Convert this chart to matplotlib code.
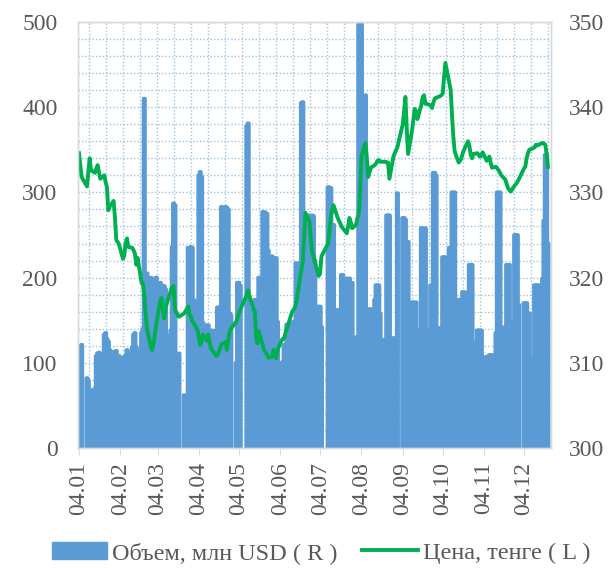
import datetime as dt

import matplotlib
matplotlib.use("Agg")
import matplotlib.pyplot as plt
import matplotlib.dates as mdates
from matplotlib.lines import Line2D
from matplotlib.patches import Patch
from matplotlib.ticker import MultipleLocator

# trading days of 2017, listed month by month
days_jan = [4, 5, 6, 10, 11, 12, 13, 16, 17, 18, 19, 20, 23, 24, 25, 26, 27, 30, 31]
days_feb = [1, 2, 3, 6, 7, 8, 9, 10, 13, 14, 15, 16, 17, 20, 21, 22, 23, 24, 27, 28]
days_mar = [1, 2, 3, 6, 7, 9, 10, 13, 14, 15, 16, 17, 20, 24, 27, 28, 29, 30, 31]
days_apr = [3, 4, 5, 6, 7, 10, 11, 12, 13, 14, 17, 18, 19, 20, 21, 24, 25, 26, 27, 28]
days_may = [2, 3, 4, 5, 10, 11, 12, 15, 16, 17, 18, 19, 22, 23, 24, 25, 26, 29, 30, 31]
days_jun = [1, 2, 5, 6, 7, 8, 9, 12, 13, 14, 15, 16, 19, 20, 21, 22, 23, 26, 27, 28, 29, 30]
days_jul = [3, 4, 5, 10, 11, 12, 13, 14, 17, 18, 19, 20, 21, 24, 25, 26, 27, 28, 31]
days_aug = [1, 2, 3, 4, 7, 8, 9, 10, 11, 14, 15, 16, 17, 18, 21, 22, 23, 24, 25, 28, 29, 31]
days_sep = [4, 5, 6, 7, 8, 11, 12, 13, 14, 15, 18, 19, 20, 21, 22, 25, 26, 27, 28, 29]
days_oct = [2, 3, 4, 5, 6, 9, 10, 11, 12, 13, 16, 17, 18, 19, 20, 23, 24, 25, 26, 27, 30, 31]
days_nov = [1, 2, 3, 6, 7, 8, 9, 10, 13, 14, 15, 16, 17, 20, 21, 22, 23, 24, 27, 28, 29, 30]
days_dec = [4, 5, 6, 7, 8, 11, 12, 13, 14, 15, 18, 19, 20, 21, 22]

# volume, mln USD (left scale)
volume = [
    120, 118, 121, 82, 79, 64, 68, 70, 108, 111, 112, 110, 133, 135, 128, 125, 115, 113, 112,
    114, 105, 108, 106, 107, 108, 115, 112, 118, 133, 135, 118, 115, 135, 140, 410, 195, 205, 200, 198,
    196, 194, 200, 194, 191, 190, 186, 132, 138, 236, 287, 285, 111, 62, 235, 233, 236, 235, 174,
    172, 320, 324, 318, 147, 144, 144, 127, 127, 138, 138, 165, 165, 165, 283, 283, 282, 280, 158, 156,
    100, 194, 194, 190, 378, 381, 162, 162, 174, 174, 172, 200, 277, 277, 276, 275, 232, 225, 223, 222,
    223, 148, 100, 101, 121, 121, 145, 145, 146, 148, 148, 217, 217, 405, 406, 273, 273, 273, 272, 273, 272, 220,
    166, 166, 142, 306, 306, 305, 262, 262, 162, 162, 160, 203, 203, 199, 198, 199, 194, 194, 130,
    130, 497, 496, 497, 414, 162, 162, 163, 163, 174, 191, 191, 191, 158, 127, 127, 273, 273, 273, 129, 129, 299,
    270, 270, 268, 242, 242, 171, 171, 170, 171, 138, 258, 258, 257, 258, 138, 191, 191, 323, 323, 320,
    141, 141, 224, 224, 224, 235, 235, 300, 300, 300, 174, 174, 174, 183, 183, 183, 215, 215, 215, 124, 138, 138,
    138, 138, 107, 107, 107, 109, 109, 109, 135, 300, 300, 300, 142, 142, 215, 215, 215, 148, 250, 250, 250, 168,
    170, 170, 170, 158, 158, 106, 191, 191, 191, 191, 199, 267, 344, 344, 240,
]

# price, tenge per USD (right scale)
price = [
    334.6, 333.2, 331.8, 330.7, 332.4, 334.0, 332.6, 332.3, 332.8, 333.2, 332.4, 331.6, 332.0, 331.2,
    330.6, 327.9, 328.3, 329.0, 327.0,
    324.4, 324.2, 323.9, 322.2, 322.6, 324.0, 324.6, 323.6, 323.5, 323.2, 322.8, 321.5, 322.3, 319.4,
    319.3, 318.0, 315.8, 314.0, 311.8, 311.5,
    312.3, 313.4, 314.5, 317.2, 317.6, 315.2, 316.5, 318.0, 318.5, 318.9, 319.0, 316.2, 315.4, 315.8,
    316.6, 315.6, 315.4, 314.9, 314.7,
    313.8, 313.0, 312.1, 312.5, 313.3, 312.6, 313.3, 312.5, 311.7, 311.5, 310.8, 310.9, 311.3, 311.7,
    312.2, 312.4, 311.5, 312.6, 313.6, 314.0,
    314.8, 315.3, 315.8, 316.2, 318.0, 318.5, 317.8, 316.3, 316.0, 313.0, 312.3, 313.7, 312.0, 311.5,
    311.2, 311.0, 310.6, 310.7, 311.5, 311.4,
    310.5, 311.5, 312.6, 312.8, 312.9, 313.5, 314.0, 315.5, 316.0, 316.2, 316.5, 317.0, 320.0, 321.0,
    322.0, 325.0, 327.6, 326.6, 324.5, 323.0, 322.5, 321.8,
    320.2, 320.5, 322.5, 324.0, 325.5, 327.0, 328.0, 328.5, 327.1, 326.7, 326.4, 326.0, 325.8, 325.2,
    326.0, 327.0, 326.5, 325.8, 326.2,
    327.0, 327.5, 330.0, 334.2, 335.8, 334.2, 331.8, 332.3, 332.9, 333.2, 333.4, 333.7, 333.8, 333.6,
    333.6, 333.6, 333.5, 333.5, 331.6, 334.2, 334.6, 335.3,
    338.0, 339.5, 341.2, 337.5, 334.5, 337.3, 338.5, 339.8, 339.5, 338.6, 340.3, 341.2, 341.4, 340.4,
    340.4, 340.2, 339.9, 340.5, 341.0, 341.1,
    341.3, 341.4, 341.6, 343.5, 345.2, 342.8, 342.0, 339.0, 336.5, 334.8, 333.5, 333.7, 334.0, 334.6,
    335.0, 336.0, 335.5, 334.4, 334.0, 334.5, 334.6, 334.4,
    334.2, 334.3, 334.7, 333.7, 333.9, 334.2, 333.5, 332.9, 333.0, 332.8, 332.6, 332.3, 332.0, 331.5,
    331.0, 330.5, 330.3, 330.1, 330.8, 331.0, 331.2, 331.5,
    332.8, 333.0, 334.0, 334.6, 335.0, 335.2, 335.3, 335.6, 335.5, 335.6, 335.8, 335.7, 335.6, 334.5, 333.0,
]

months = [days_jan, days_feb, days_mar, days_apr, days_may, days_jun,
          days_jul, days_aug, days_sep, days_oct, days_nov, days_dec]
dates = [dt.date(2017, m + 1, d) for m, ds in enumerate(months) for d in ds]
assert len(dates) == len(volume) == len(price)

plt.rcParams['font.family'] = ['Liberation Serif', 'DejaVu Serif']
txt = '#595959'
edge = '#D9D9D9'
blue = '#5B9BD5'
green = '#00B050'

fig = plt.figure(figsize=(6.09, 5.68), dpi=100)
ax = fig.add_axes([0.1286, 0.2113, 0.7762, 0.75])

x = mdates.date2num(dates)
# one-day columns with a thick outline in the same colour, as in the source chart
ax.bar(x, volume, width=1.0, color=blue, edgecolor=blue, linewidth=2.7,
       joinstyle='round', snap=False, zorder=2)
ax.set_xlim(x[0] - 0.5, x[-1] + 2.3)
ax.set_ylim(0, 500)
ax.yaxis.set_major_locator(MultipleLocator(100))
ax.yaxis.set_minor_locator(MultipleLocator(20))

# dotted background grid
ax.set_axisbelow(True)
ax.grid(which='both', axis='y', color='#9DC3E6', linestyle=(0, (1, 1.5)), linewidth=1)
xs = [(10.7 + 17 * k) / 472.7 for k in range(28)]
ax.vlines(xs, 0, 1, transform=ax.transAxes, color='#9DC3E6',
          linestyle=(0, (1, 1.5)), linewidth=1, zorder=0.5)

ax.xaxis.set_major_locator(mdates.MonthLocator(bymonthday=4))
ax.xaxis.set_major_formatter(mdates.DateFormatter('%d.%m'))
ax.tick_params(axis='x', rotation=90, labelsize=17, labelcolor=txt,
               color=edge, length=5, pad=5)
ax.tick_params(axis='y', which='both', length=0, labelsize=17, labelcolor=txt, pad=15)

ax2 = ax.twinx()
ax2.plot(x, price, color=green, linewidth=2.8, solid_joinstyle='round')
ax2.set_ylim(300, 350)
ax2.yaxis.set_major_locator(MultipleLocator(10))
ax2.tick_params(axis='y', length=0, labelsize=17, labelcolor=txt, pad=13)

for a in (ax, ax2):
    for s in a.spines.values():
        s.set_color(edge)
        s.set_linewidth(1)

handles = [Patch(color=blue, label='Объем, млн USD ( R )'),
           Line2D([], [], color=green, linewidth=2.8, label='Цена, тенге ( L )')]
leg = fig.legend(handles=handles, loc='center', bbox_to_anchor=(0.527, 0.027), ncol=2,
                 frameon=False, fontsize=17.5, handlelength=2.3, handleheight=0.7,
                 handletextpad=0.2, columnspacing=1.0)
for t in leg.get_texts():
    t.set_color(txt)

fig.savefig('out.png', dpi=100)
